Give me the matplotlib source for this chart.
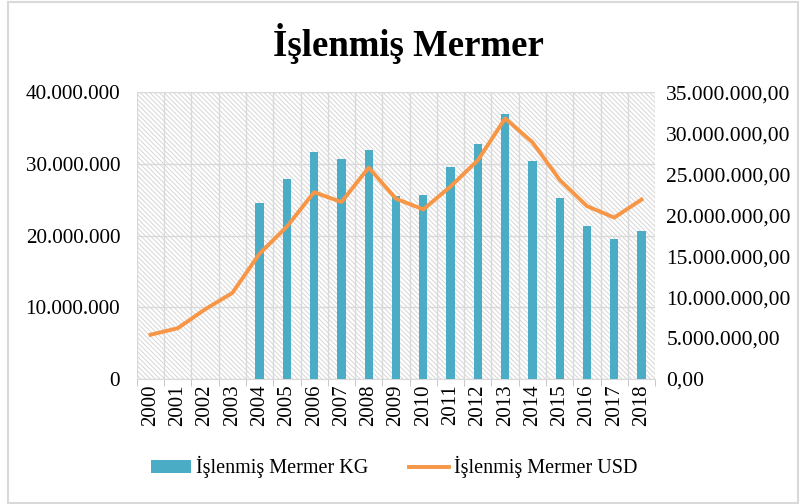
import matplotlib
matplotlib.use("Agg")
import matplotlib.pyplot as plt
from matplotlib.ticker import FuncFormatter, MultipleLocator
from matplotlib.patches import Rectangle
import numpy as np

years = [str(y) for y in range(2000, 2019)]
kg = [0, 0, 0, 0, 24.6e6, 27.9e6, 31.7e6, 30.7e6, 32.0e6, 25.5e6,
      25.6e6, 29.6e6, 32.8e6, 36.9e6, 30.4e6, 25.2e6, 21.4e6, 19.5e6, 20.6e6]
usd = [5.4e6, 6.2e6, 8.5e6, 10.5e6, 15.3e6, 18.6e6, 22.8e6, 21.6e6, 25.8e6, 22.0e6,
       20.7e6, 23.5e6, 26.7e6, 31.8e6, 28.9e6, 24.3e6, 21.1e6, 19.7e6, 21.9e6]

plt.rcParams['font.family'] = ['Liberation Serif', 'DejaVu Serif']
plt.rcParams['hatch.color'] = '#d6d6d6'
plt.rcParams['hatch.linewidth'] = 0.7

fig = plt.figure(figsize=(8, 5.04), dpi=100)
fig.patches.append(Rectangle((0.01, 0.002), 0.988, 0.994, transform=fig.transFigure,
                             fill=False, edgecolor='#d9d9d9', lw=1.5))
ax = fig.add_axes([0.171, 0.248, 0.648, 0.569])
ax.patch.set_facecolor('white')
ax.patch.set_hatch('\\' * 7)
ax.patch.set_edgecolor('#d6d6d6')

x = np.arange(len(years))
bar_color = '#4bacc6'
line_color = '#f79646'

ax.bar(x, kg, width=0.3, color=bar_color, zorder=3, label='İşlenmiş Mermer KG')
ax.set_xlim(-0.5, len(years) - 0.5)
ax.set_ylim(0, 40e6)
ax.yaxis.set_major_locator(MultipleLocator(10e6))
ax.yaxis.set_major_formatter(FuncFormatter(lambda v, p: f"{int(v):,}".replace(',', '.')))
ax.set_xticks(x)
ax.set_xticklabels(years, rotation=90)
ax.set_xticks(np.arange(-0.5, len(years), 1), minor=True)
ax.tick_params(axis='x', which='major', length=0, labelsize=15, pad=4)
ax.tick_params(axis='x', which='minor', length=5, color='#bfbfbf')
ax.tick_params(axis='y', length=0, labelsize=15.2, pad=12)
ax.grid(axis='y', which='major', color='#d9d9d9', lw=1, zorder=1)
ax.grid(axis='x', which='minor', color='#d9d9d9', lw=1, zorder=1)
ax.set_axisbelow(True)
for s in ['top', 'right', 'left']:
    ax.spines[s].set_visible(False)
ax.spines['bottom'].set_color('#d9d9d9')

ax2 = ax.twinx()
ax2.plot(x, usd, color=line_color, lw=2.8, zorder=4, label='İşlenmiş Mermer USD')
ax2.set_ylim(0, 35e6)
ax2.yaxis.set_major_locator(MultipleLocator(5e6))
ax2.yaxis.set_major_formatter(FuncFormatter(lambda v, p: f"{int(v):,}".replace(',', '.') + ",00"))
ax2.tick_params(axis='y', length=0, labelsize=15.5, pad=8)
for s in ax2.spines.values():
    s.set_visible(False)

fig.suptitle('İşlenmiş Mermer', x=0.51, y=0.955, fontsize=26.5, fontweight='bold')

h1, l1 = ax.get_legend_handles_labels()
h2, l2 = ax2.get_legend_handles_labels()
fig.legend(h1 + h2, l1 + l2, loc='center', bbox_to_anchor=(0.493, 0.073), ncol=2,
           frameon=False, fontsize=14.5, handlelength=2.0, handleheight=0.6,
           columnspacing=2.0, handletextpad=0.25)

fig.savefig('out.png', dpi=100)
